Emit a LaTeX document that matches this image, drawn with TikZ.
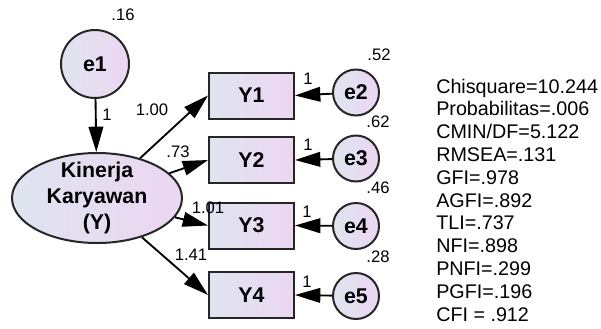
\documentclass[tikz,border=0pt]{standalone}
\usepackage{fontspec}
\setmainfont{Liberation Sans}
\usetikzlibrary{arrows.meta,shapes.geometric}

\definecolor{amosleft}{RGB}{223,228,240}
\definecolor{amosright}{RGB}{236,214,242}

\tikzset{
	amosfill/.style={left color=amosleft, right color=amosright},
	varfont/.style={font=\bfseries\fontsize{16}{19.5}\selectfont},
	latentvar/.style={ellipse, draw=black!85, line width=1.5pt, amosfill, varfont, align=center, inner xsep=0pt, inner ysep=-8pt, minimum width=127.5pt, minimum height=67.5pt},
	obsbox/.style={rectangle, draw=black!85, line width=1.5pt, amosfill, varfont, minimum width=63.75pt, minimum height=34.5pt},
	errbig/.style={circle, draw=black!85, line width=1.5pt, amosfill, varfont, inner sep=0pt, minimum size=51pt},
	errsmall/.style={circle, draw=black!85, line width=1.5pt, amosfill, varfont, inner sep=0pt, minimum size=34.5pt},
	est/.style={font=\fontsize{12.5}{14}\selectfont, inner sep=0pt},
	fitstat/.style={font=\fontsize{14.8}{17.1}\selectfont, align=left, inner sep=0pt, anchor=north west},
	amospath/.style={line width=1.4pt, -{Triangle[length=19pt,width=11pt]}}
}

\begin{document}
\begin{tikzpicture}[x=0.75pt, y=-0.75pt]
			%%%%% START %%%%%
			\useasboundingbox (0,0) rectangle (601,329);
			
			\node[errbig] (e1) at (95,64) {e1};
			\node[latentvar] (kinerja) at (97,198) {Kinerja\\Karyawan\\(Y)};
			
			\node[obsbox] (y1) at (251.5,95.5) {Y1};
			\node[obsbox] (y2) at (251.5,160) {Y2};
			\node[obsbox] (y3) at (251.5,225.5) {Y3};
			\node[obsbox] (y4) at (251.5,295) {Y4};
			
			\node[errsmall] (e2) at (356,92.5) {e2};
			\node[errsmall] (e3) at (356,158.5) {e3};
			\node[errsmall] (e4) at (356,226) {e4};
			\node[errsmall] (e5) at (356,296) {e5};
			
			\draw[amospath] (e1) -- (kinerja);
			\draw[amospath] (kinerja) -- (y1.west);
			\draw[amospath] (kinerja) -- (y2.west);
			\draw[amospath] (kinerja) -- (y3.west);
			\draw[amospath] (kinerja) -- (y4.west);
			\draw[amospath] (e2) -- (y1.east);
			\draw[amospath] (e3) -- (y2.east);
			\draw[amospath] (e4) -- (y3.east);
			\draw[amospath] (e5) -- (y4.east);
			
			% variances
			\node[est] (var1) at (123,15) {.16};
			\node[est] (var2) at (379,55) {.52};
			\node[est] (var3) at (378,122) {.62};
			\node[est] (var4) at (378,188) {.46};
			\node[est] (var5) at (378,257) {.28};
			
			% loadings
			\node[est] (w0) at (107,115) {1};
			\node[est] (w1) at (152,110) {1.00};
			\node[est] (w2) at (178,152) {.73};
			\node[est] (w3) at (208,208) {1.01};
			\node[est] (w4) at (191,255) {1.41};
			\node[est] (w5) at (308,79) {1};
			\node[est] (w6) at (308,145) {1};
			\node[est] (w7) at (307,212) {1};
			\node[est] (w8) at (307,282) {1};
			
			\node[fitstat] (fit) at (436,78.5) {Chisquare=10.244\\Probabilitas=.006\\CMIN/DF=5.122\\RMSEA=.131\\GFI=.978\\AGFI=.892\\TLI=.737\\NFI=.898\\PNFI=.299\\PGFI=.196\\CFI = .912};
			%%%%% END %%%%%
\end{tikzpicture}
\end{document}
